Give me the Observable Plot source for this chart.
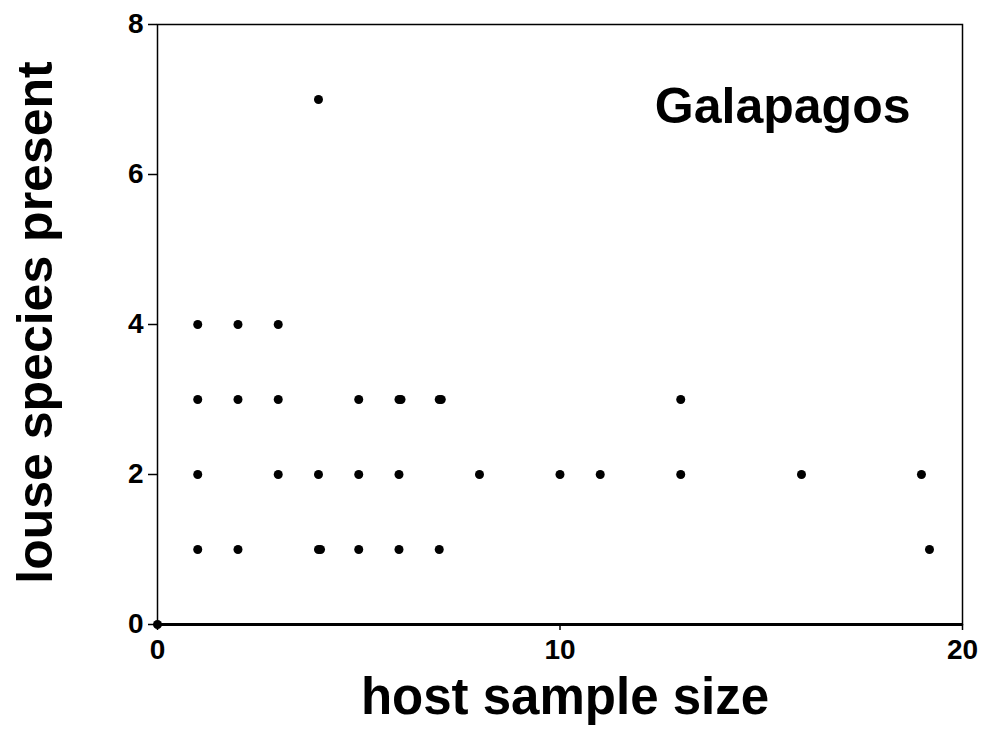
<!DOCTYPE html>
<html><head><meta charset="utf-8">
<script src="https://cdn.jsdelivr.net/npm/d3@7"></script>
<script src="https://cdn.jsdelivr.net/npm/@observablehq/plot@0.6"></script>
<style>body{margin:0;background:#fff;} svg{font-family:"Liberation Sans",Arial,sans-serif;}</style>
</head><body><div id="chart"></div>
<script>
const hostSampleSize = [0, 4, 1, 2, 3, 1, 2, 3, 5, 6, 6.05, 7, 7.05, 13, 1, 3, 4, 5, 6, 8, 10, 11, 13, 16, 18.98, 1, 2, 4, 4.05, 5, 6, 7, 19.18];
const louseSpecies   = [0, 7, 4, 4, 4, 3, 3, 3, 3, 3, 3,    3, 3,    3,  2, 2, 2, 2, 2, 2, 2,  2,  2,  2,  2,     1, 1, 1, 1,    1, 1, 1, 1];
const xTicks = [0, 10, 20];
const yTicks = [0, 2, 4, 6, 8];
const panelTitle = "Galapagos";
const xLabel = "host sample size";
const yLabel = "louse species present";

const data = hostSampleSize.map((x, i) => ({x, y: louseSpecies[i]}));

const chart = Plot.plot({
  width: 987, height: 749,
  marginLeft: 157, marginRight: 25, marginTop: 24, marginBottom: 125,
  style: {fontFamily: "Liberation Sans, Arial, sans-serif", background: "#fff", fontWeight: "bold", color: "black"},
  x: {domain: [0, 20], ticks: xTicks},
  y: {domain: [0, 8], ticks: yTicks},
  marks: [
    Plot.frame({stroke: "black", strokeWidth: 1.5}),
    Plot.ruleY([0], {stroke: "black", strokeWidth: 3}),
    Plot.axisX({ticks: xTicks, label: null, tickSize: 6, tickPadding: 9, fontSize: 28, fontWeight: "bold", stroke: "black", strokeWidth: 1.5}),
    Plot.axisY({ticks: yTicks, label: null, tickSize: 9, tickPadding: 5, fontSize: 28, fontWeight: "bold", stroke: "black", strokeWidth: 1.5}),
    Plot.dot(data, {x: "x", y: "y", r: 4.5, fill: "black"}),
    Plot.text([panelTitle], {frameAnchor: "top-right", dx: -52, dy: 82, fontSize: 50, fontWeight: "bold", fill: "black", lineAnchor: "middle"}),
    Plot.text([xLabel], {frameAnchor: "bottom", dx: 5, dy: 73, fontSize: 51, fontWeight: "bold", fill: "black", lineAnchor: "middle"}),
    Plot.text([yLabel], {frameAnchor: "left", dx: -122, dy: -2, rotate: -90, textAnchor: "middle", fontSize: 50, fontWeight: "bold", fill: "black", lineAnchor: "middle"})
  ]
});
document.getElementById("chart").appendChild(chart);
</script>
</body></html>
